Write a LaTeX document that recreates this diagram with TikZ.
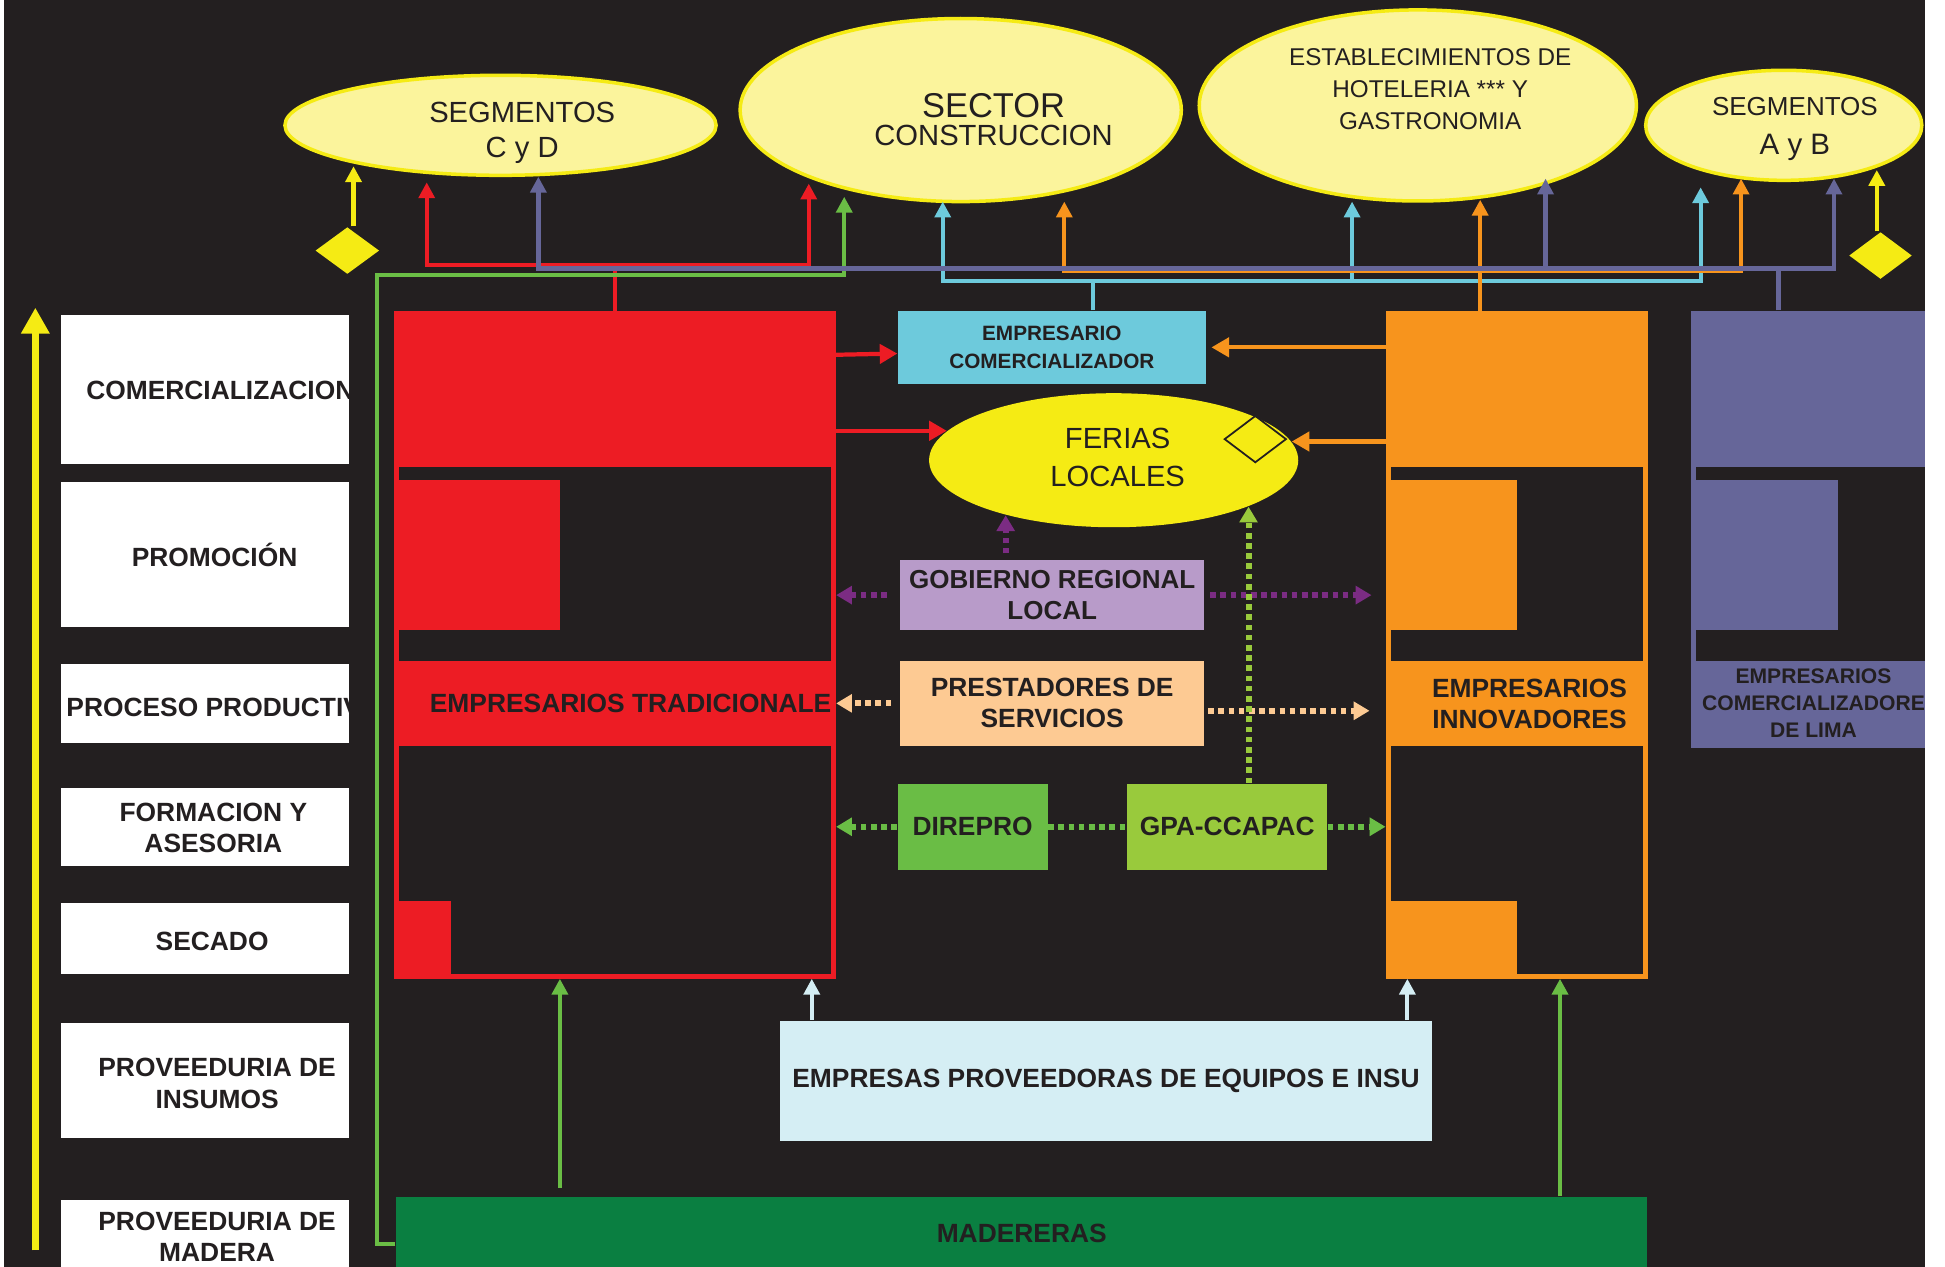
\documentclass[tikz,border=0pt]{standalone}
\usepackage{fontspec}
\setmainfont{Liberation Sans}
\usepackage{tikz}
\usetikzlibrary{arrows.meta,shapes.geometric,calc}

\definecolor{fondo}{HTML}{231F20}
\definecolor{texto}{HTML}{231F20}
\definecolor{rojo}{HTML}{ED1C24}
\definecolor{naranja}{HTML}{F7941D}
\definecolor{lila}{HTML}{666699}
\definecolor{cian}{HTML}{6DCADC}
\definecolor{lavanda}{HTML}{B89BC9}
\definecolor{durazno}{HTML}{FDCA93}
\definecolor{verde}{HTML}{6ABD45}
\definecolor{verdeclaro}{HTML}{99CA3C}
\definecolor{verdeosc}{HTML}{0A7F41}
\definecolor{celeste}{HTML}{D5EEF4}
\definecolor{amarillo}{HTML}{F5EB14}
\definecolor{crema}{HTML}{FBF49C}
\definecolor{morado}{HTML}{7B2C83}

\tikzset{
	etapa/.style={fill=white, inner sep=0pt, minimum width=28.83mm},
	txtetapa/.style={text=texto, align=center, inner sep=0pt, font=\bfseries\fontsize{7.5}{9}\selectfont},
	caja/.style={inner sep=0pt, text=texto, align=center, font=\bfseries\fontsize{7.5}{8.8}\selectfont},
	bloque/.style={line width=0.5mm, inner sep=0pt, minimum height=66.25mm},
	nube/.style={ellipse, draw=amarillo, line width=0.35mm, fill=crema, inner sep=0pt},
	txtnube/.style={text=texto, align=center, inner sep=0pt},
	rombo/.style={diamond, fill=amarillo, inner sep=0pt, minimum width=6.4mm, minimum height=4.7mm},
	linea/.style={line width=1.2pt},
	flecha/.style={linea, -{Triangle[width=4.5pt,length=4.5pt]}},
	flechalado/.style={linea, -{Triangle[width=5.4pt,length=5pt]}},
	puntos/.style={line width=1.7pt, dash pattern=on 1.6pt off 1.3pt},
	flechapuntos/.style={puntos, -{Triangle[width=5pt,length=4.5pt]}},
}

\begin{document}
\begin{tikzpicture}[x=0.124mm,y=-0.124mm]
	\useasboundingbox (0,0) rectangle (1568,1021);
	\fill[white] (0,0) rectangle (1568,1021);
	\fill[fondo] (3.6,0) rectangle (1551.5,1021);

	% eje de etapas
	\coordinate (ejeIni) at (28.5,1008);
	\coordinate (ejeFin) at (28.5,248);
	\draw[line width=2pt, amarillo, -{Triangle[width=7.7pt,length=7.4pt]}] (ejeIni) -- (ejeFin);

	% etapas
	\node[etapa, minimum height=14.88mm] (etCom) at (165.25,314) {};
	\node[etapa, minimum height=14.5mm] (etPromo) at (165.25,447) {};
	\node[etapa, minimum height=7.94mm] (etProc) at (165.25,567) {};
	\node[etapa, minimum height=7.81mm] (etForm) at (165.25,666.5) {};
	\node[etapa, minimum height=7.07mm] (etSec) at (165.25,756.5) {};
	\node[etapa, minimum height=11.41mm] (etIns) at (165.25,871) {};
	\node[etapa, minimum height=7.44mm] (etMad) at (165.25,997) {};
	\begin{scope}
		\clip (49,0) rectangle (281.5,1021);
		\node[txtetapa, anchor=west] (comTxt) at (69,315) {COMERCIALIZACION};
		\node[txtetapa] (promoTxt) at (173,447) {PROMOCIÓN};
		\node[txtetapa, anchor=west] (procTxt) at (53,570) {PROCESO PRODUCTIV};
		\node[txtetapa] (formTxt) at (172,667.5) {FORMACION Y\\ASESORIA};
		\node[txtetapa] (secTxt) at (171,759) {SECADO};
		\node[txtetapa] (insTxt) at (175,873.5) {PROVEEDURIA DE\\INSUMOS};
		\node[txtetapa] (madTxt) at (175,997) {PROVEEDURIA DE\\MADERA};
	\end{scope}

	% empresarios tradicionales
	\fill[rojo] (318,250.7) rectangle (674,376.5);
	\fill[rojo] (318,387) rectangle (451.4,508);
	\fill[rojo] (318,533) rectangle (674,601);
	\fill[rojo] (318,726) rectangle (363.6,789);
	\node[bloque, draw=rojo, minimum width=43.65mm] (trad) at (496,519.85) {};
	\node[caja, anchor=west] (tradTxt) at (346,567) {EMPRESARIOS TRADICIONALE};

	% empresarios innovadores
	\fill[naranja] (1117,250.7) rectangle (1328.6,376.5);
	\fill[naranja] (1117,387) rectangle (1223,508);
	\fill[naranja] (1117,533) rectangle (1328.6,601);
	\fill[naranja] (1117,726) rectangle (1223,789);
	\node[bloque, draw=naranja, minimum width=25.74mm] (innov) at (1222.8,519.85) {};
	\node[caja] (innovTxt) at (1233,567.5) {EMPRESARIOS\\INNOVADORES};

	% comercializadores de lima
	\fill[lila] (1363.5,250.7) rectangle (1551.5,376.5);
	\fill[lila] (1363.5,376.5) rectangle (1367.5,533);
	\fill[lila] (1363.5,387) rectangle (1482,508);
	\fill[lila] (1363.5,533) rectangle (1551.5,602.7);
	\node[inner sep=0pt, minimum width=23.25mm, minimum height=43.65mm] (lima) at (1457.25,426.7) {};
	\node[caja, font=\bfseries\fontsize{6}{7.7}\selectfont] (limaTxt) at (1462,567) {EMPRESARIOS\\COMERCIALIZADORE\\DE LIMA};

	% mercados
	\node[nube, minimum width=43.1mm, minimum height=10mm] (segCD) at (403.5,101) {};
	\node[nube, minimum width=44.1mm, minimum height=18.3mm] (sector) at (774.5,88.7) {};
	\node[nube, minimum width=43.7mm, minimum height=19.1mm] (hotel) at (1143,85) {};
	\node[nube, minimum width=27.6mm, minimum height=11mm] (segAB) at (1438,101) {};
	\node[txtnube, font=\fontsize{8.3}{9.9}\selectfont] (segCDTxt) at (421,107) {SEGMENTOS\\C y D};
	\node[txtnube, font=\fontsize{8.3}{7.9}\selectfont] (sectorTxt) at (801,96.5) {{\fontsize{9.8}{9.8}\selectfont SECTOR}\\CONSTRUCCION};
	\node[txtnube, font=\fontsize{6.9}{9.1}\selectfont] (hotelTxt) at (1153,72) {ESTABLECIMIENTOS DE\\HOTELERIA *** Y\\GASTRONOMIA};
	\node[txtnube, font=\fontsize{7.4}{10.9}\selectfont] (segABTxt) at (1447,104) {SEGMENTOS\\{\fontsize{8.4}{8.4}\selectfont A y B}};

	% centro
	\node[ellipse, fill=amarillo, inner sep=0pt, minimum width=36.9mm, minimum height=13.4mm] (ferias) at (897.8,371) {};
	\node[txtnube, font=\fontsize{8.3}{10.9}\selectfont] (feriasTxt) at (901,369) {FERIAS\\LOCALES};
	\node[diamond, draw=texto, line width=0.5pt, inner sep=0pt, minimum width=6.2mm, minimum height=4.7mm] (feriasRombo) at (1012,354) {};
	\node[caja, fill=cian, minimum width=30.75mm, minimum height=7.23mm, font=\bfseries\fontsize{5.9}{8.1}\selectfont] (comer) at (848,280) {EMPRESARIO\\COMERCIALIZADOR};
	\node[caja, fill=lavanda, minimum width=30.44mm, minimum height=7mm, font=\bfseries\fontsize{7.4}{8.8}\selectfont] (gob) at (848.25,479.75) {GOBIERNO REGIONAL\\LOCAL};
	\node[caja, fill=durazno, minimum width=30.44mm, minimum height=8.43mm] (serv) at (848.25,567) {PRESTADORES DE\\SERVICIOS};
	\node[caja, fill=verde, minimum width=14.98mm, minimum height=8.56mm] (dir) at (784.1,666.5) {DIREPRO};
	\node[caja, fill=verdeclaro, minimum width=19.96mm, minimum height=8.56mm] (gpa) at (989.3,666.5) {GPA-CCAPAC};
	\node[caja, fill=celeste, minimum width=65.22mm, minimum height=12.03mm] (prov) at (891.6,871.5) {EMPRESAS PROVEEDORAS DE EQUIPOS E INSU};
	\node[caja, fill=verdeosc, minimum width=125.07mm, minimum height=7.19mm] (mad) at (823.7,994) {MADERERAS};

	% flechas hacia los mercados
	\coordinate (rojoA) at (344,147);
	\coordinate (rojoB) at (652,148);
	\draw[flecha, rojo] (trad.north) -- ++(0,-37) -| (rojoA);
	\draw[flecha, rojo] (trad.north) ++(0,-37) -| (rojoB);

	\coordinate (verdeA) at (680.6,158.6);
	\draw[flecha, verde] ([yshift=-1.1mm]mad.west) -| (304,221.5) -| (verdeA);

	\coordinate (cianA) at (760,162.5);
	\coordinate (cianB) at (1090,162.5);
	\coordinate (cianC) at (1371,151);
	\draw[linea, cian] ([xshift=4.1mm]comer.north) -- ++(0,-24) coordinate (cianBus);
	\draw[flecha, cian] (cianBus) -| (cianA);
	\draw[flecha, cian] (cianBus) -| (cianB);
	\draw[flecha, cian] (cianBus) -| (cianC);

	\coordinate (naranjaA) at (858,162.5);
	\coordinate (naranjaB) at (1193,161);
	\coordinate (naranjaC) at (1403.6,144);
	\draw[flecha, naranja] ([xshift=-3.66mm]innov.north) coordinate (naranjaBase) -- (naranjaBase |- naranjaB);
	\draw[flecha, naranja] (naranjaBase) ++(0,-32) -| (naranjaA);
	\draw[flecha, naranja] (naranjaBase) ++(0,-32) -| (naranjaC);

	\coordinate (lilaA) at (434,142.5);
	\coordinate (lilaB) at (1246,144);
	\coordinate (lilaC) at (1478.5,144);
	\draw[line width=1.4pt, lila] ([xshift=-2.88mm]lima.north) -- ++(0,-34) coordinate (lilaBus);
	\draw[flecha, lila, line width=1.4pt] (lilaBus) -| (lilaA);
	\draw[flecha, lila, line width=1.4pt] (lilaBus) -| (lilaB);
	\draw[flecha, lila, line width=1.4pt] (lilaBus) -| (lilaC);

	\node[rombo] (rombo1) at (280,202) {};
	\node[rombo, minimum width=6.3mm] (rombo2) at (1516,206) {};
	\coordinate (amA) at (285,134);
	\coordinate (amB) at (1513,137);
	\draw[flecha, amarillo] (rombo1.north -| amA) -- (amA);
	\draw[flecha, amarillo] (rombo2.north -| amB) -- (amB);

	% flechas laterales
	\draw[flechalado, rojo] ($(trad.east |- comer.west)+(0,6)$) -- ($(comer.west)+(0,5)$);
	\draw[flechalado, rojo] (trad.east |- ferias.170) -- (ferias.170);
	\draw[flechalado, naranja, shorten >=0.5mm] (innov.west |- comer.east) -- (comer.east);
	\draw[flechalado, naranja] (innov.west |- ferias.6) -- (ferias.6);

	% flechas punteadas
	\draw[flechapuntos, morado, shorten <=0.6mm] (gob.north -| ferias.-153) -- (ferias.-153);
	\draw[flechapuntos, morado, shorten <=1.25mm] (gob.west) -- (gob.west -| trad.east);
	\draw[flechapuntos, morado, shorten <=0.5mm, shorten >=1.4mm] (gob.east) -- (gob.east -| innov.west);
	\draw[flechapuntos, durazno, shorten <=0.8mm] (serv.west) -- (serv.west -| trad.east);
	\draw[flechapuntos, durazno, shorten <=0.3mm, shorten >=1.6mm] ($(serv.east)+(0,6)$) -- ($(serv.east -| innov.west)+(0,6)$);
	\draw[flechapuntos, verde] (dir.west) -- (dir.west -| trad.east);
	\draw[puntos, verde] (dir.east) -- (gpa.west);
	\draw[flechapuntos, verde] (gpa.east) -- (gpa.east -| innov.west);
	\draw[flechapuntos, verdeclaro] (gpa.north -| ferias.-19) -- (ferias.-19);

	% flechas desde abajo
	\path ($(prov.north west)+(26.4,0)$) coordinate (provA);
	\path ($(prov.north east)+(-20.6,0)$) coordinate (provB);
	\draw[flecha, celeste] (provA) -- (provA |- trad.south);
	\draw[flecha, celeste] (provB) -- (provB |- innov.south);
	\path ($(mad.north west)+(132.6,-7)$) coordinate (madA);
	\path ($(mad.north east)+(-71,0)$) coordinate (madB);
	\draw[flecha, verde] (madA) -- (madA |- trad.south);
	\draw[flecha, verde] (madB) -- (madB |- innov.south);
\end{tikzpicture}
\end{document}
